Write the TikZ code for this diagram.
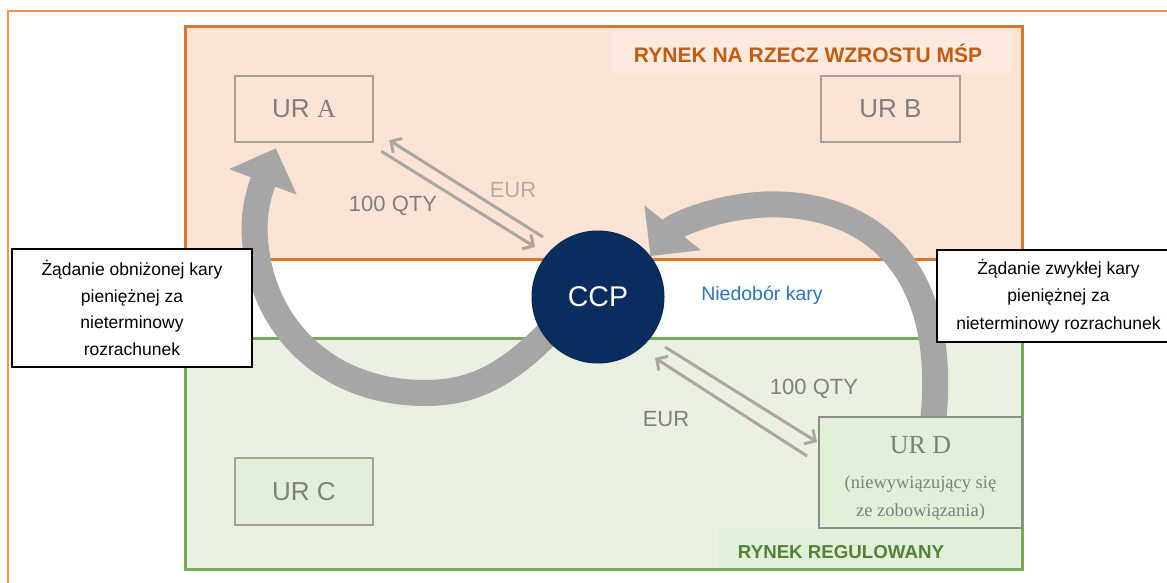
\documentclass[tikz,border=0pt]{standalone}
\usepackage{fontspec}
\setmainfont{Liberation Sans}
\newfontfamily\tnr{Liberation Serif}
\usetikzlibrary{arrows.meta,calc}
\pgfdeclarelayer{zone}
\pgfdeclarelayer{flow}
\pgfsetlayers{zone,flow,main}
\definecolor{peach}{RGB}{251,228,213}
\definecolor{orangeedge}{RGB}{216,120,47}
\definecolor{framecol}{RGB}{244,145,74}
\definecolor{titleorange}{RGB}{197,90,17}
\definecolor{titlebgcol}{RGB}{252,234,223}
\definecolor{greenfill}{RGB}{234,241,227}
\definecolor{greenedge}{RGB}{118,170,84}
\definecolor{greentext}{RGB}{84,130,53}
\definecolor{labelbgcol}{RGB}{226,239,218}
\definecolor{urgreen}{RGB}{226,239,217}
\definecolor{urborder}{RGB}{168,160,152}
\definecolor{urDborder}{RGB}{140,140,140}
\definecolor{urtext}{RGB}{127,127,127}
\definecolor{navy}{RGB}{10,45,95}
\definecolor{kblue}{RGB}{46,117,182}
\definecolor{flowgrey}{RGB}{166,166,166}
\definecolor{thinline}{RGB}{173,165,159}
\definecolor{eurlightcol}{RGB}{180,170,162}
\begin{document}
\begin{tikzpicture}[x=1pt,y=-1pt,
  urbox/.style={draw=urborder, line width=2.5, minimum width=138, minimum height=66,
    inner sep=0, text=urtext, font=\fontsize{26}{30}\selectfont},
  urDbox/.style={draw=urDborder, line width=2, fill=urgreen, minimum width=203, minimum height=111,
    inner sep=0, text=urtext, align=center, font=\tnr\fontsize{18.5}{28}\selectfont},
  ccpnode/.style={circle, fill=navy, draw=navy!85!black, line width=1, minimum size=132,
    inner sep=0, text=white, font=\fontsize{28.5}{32}\selectfont},
  callout/.style={draw=black, line width=1.2, fill=white, inner sep=0, align=center},
  zonetitle/.style={inner sep=0, font=\bfseries\fontsize{21}{24}\selectfont, text=titleorange},
  zonetitleg/.style={inner sep=0, font=\bfseries\fontsize{18.7}{22}\selectfont, text=greentext},
  lbl/.style={inner sep=0, font=\fontsize{22}{26}\selectfont, text=urtext},
  lbllight/.style={inner sep=0, font=\fontsize{22}{26}\selectfont, text=eurlightcol},
  thinarrow/.style={draw=thinline, line width=3, -{Straight Barb[length=8pt 0 0, width=17pt 0 0]}},
  bigarrow/.style={draw=flowgrey, line width=26, -{Triangle[length=36pt 0 0, width=70pt 0 0]}}
]
\useasboundingbox (0,0) rectangle (1167,583);
\clip (0,0) rectangle (1167,583);

\begin{pgfonlayer}{zone}
  \fill[white] (0,0) rectangle (1167,583);
  \draw[framecol, line width=1.5] (8,11) rectangle (1200,620);
  \draw[orangeedge, fill=peach, line width=3] (185,27) rectangle (1022,259);
  \fill[titlebgcol] (612,31) rectangle (1012,73);
  \draw[greenedge, fill=greenfill, line width=3] (185,338) rectangle (1022,569);
  \fill[labelbgcol] (719,529) rectangle (1020,567);
\end{pgfonlayer}

% texts of zones
\node[zonetitle] (t1) at (808,53) {RYNEK NA RZECZ WZROSTU MŚP};
\node[zonetitleg] (t2) at (841,552) {RYNEK REGULOWANY};

% participant boxes
\node[urbox, fill=peach] (urA) at (304,109) {UR {\tnr A}};
\node[urbox, fill=peach, minimum width=139] (urB) at (890.5,109) {UR B};
\node[urbox, fill=urgreen, minimum height=67] (urC) at (304,491.5) {UR C};
\node[urDbox] (urD) at (920.5,472.5) {{\fontsize{26}{28}\selectfont\rule{0pt}{28pt}UR D}\\[7pt](niewywiązujący się\\ze zobowiązania)};

% CCP
\node[ccpnode] (ccp) at (598,297) {CCP};
\node[inner sep=0, font=\fontsize{19.5}{23}\selectfont, text=kblue] (nk) at (762,295) {Niedobór kary};

% callouts
\node[callout, minimum width=240, minimum height=118, font=\fontsize{17.5}{26.7}\selectfont] (cl) at (132,308)
  {Żądanie obniżonej kary\\pieniężnej za\\nieterminowy\\rozrachunek};
\node[callout, minimum width=243, minimum height=92, font=\fontsize{17.5}{27.5}\selectfont] (cr) at (1058.5,296)
  {Żądanie zwykłej kary\\pieniężnej za\\nieterminowy rozrachunek};

% big curved arrows
\begin{pgfonlayer}{flow}
  \draw[bigarrow] ($(ccp.center)!0.85!(ccp.215)$) .. controls (505,378) and (470,393) .. (425,393)
     .. controls (330,393) and (262,330) .. (255,240)
     .. controls (253,215) and (258,195) .. ($(urA.south west)+(42,5)$);
  \draw[bigarrow] ($(urD.north)+(13,2)$) .. controls (945,300) and (900,215) .. (790,205)
     .. controls (730,200) and (675,225) .. (ccp.38);
\end{pgfonlayer}

% thin exchange arrows
\draw[thinarrow] ($(ccp.center)+(-55,-60)$) -- ($(urA.south east)+(15,-3)$);
\draw[thinarrow] ($(urA.south east)+(7,8)$) -- ($(ccp.center)+(-63,-50)$);
\draw[thinarrow] ($(ccp.center)+(67,50)$) -- ($(urD.north west)+(-1,26)$);
\draw[thinarrow] ($(urD.north west)+(-11,40)$) -- ($(ccp.center)+(57,61)$);

\node[lbl] (q1) at (393,206) {100 QTY};
\node[lbllight] (e1) at (513,190) {EUR};
\node[lbl] (q2) at (814,389) {100 QTY};
\node[lbl] (e2) at (666,419) {EUR};
\end{tikzpicture}
\end{document}
